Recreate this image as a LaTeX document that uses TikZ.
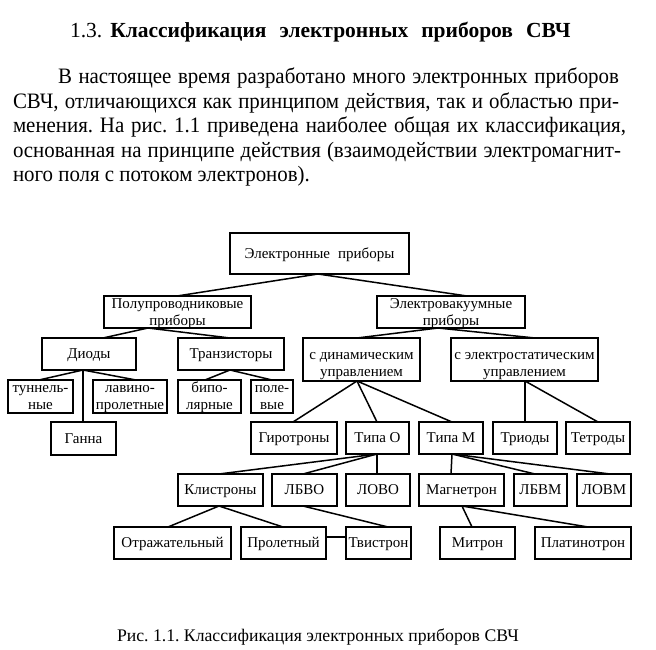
\documentclass[tikz,border=0pt]{standalone}
\usepackage{fontspec}
\setmainfont{Liberation Serif}
\newfontfamily\parafont[FakeStretch=0.95]{Liberation Serif}
\frenchspacing
\tikzset{
  box/.style={draw, line width=1.1pt, inner sep=0pt, outer sep=0pt, align=center,
              font=\fontsize{15}{17}\selectfont, text height=10pt, text depth=1pt},
  two/.style={box, text height=29pt, text depth=3pt},
  twoc/.style={box, text height=37pt, text depth=4pt},
  topbox/.style={box, line width=1.8pt},
  conn/.style={line width=1.5pt},
  txt/.style={anchor=base west, inner sep=0pt, outer sep=0pt}
}
\newcommand\bx[7][box]{\node[#1, minimum width={(#5-#3)*1pt}, minimum height={(#6-#4)*1pt}] (#2) at ({(#3+#5)/2},{(#4+#6)/2}) {#7};}
\newcommand\cn[4]{\draw[conn] (#1.south -| #2,0) -- (#3.north -| #4,0);}
\begin{document}
\begin{tikzpicture}[x=1pt,y=-1pt]
\useasboundingbox (0,0) rectangle (656,650);
% title
\node[txt, font=\fontsize{21.5}{24}\selectfont] (title) at (70,38)
  {1.3.\hspace{8pt}\textbf{Классификация\hspace{13pt}электронных\hspace{13pt}приборов\hspace{13pt}СВЧ}};
% paragraph
\begin{scope}[every node/.append style={txt, font=\parafont\fontsize{22}{25}\selectfont}]
\node (p1) at (58,84) {\makebox[561pt][s]{В настоящее время разработано много электронных приборов}};
\node (p2) at (13,108.5) {\makebox[606pt][s]{СВЧ, отличающихся как принципом действия, так и областью при-}};
\node (p3) at (13,133) {\makebox[613pt][s]{менения. На рис. 1.1 приведена наиболее общая их классификация,}};
\node (p4) at (13,157.5) {\makebox[608pt][s]{основанная на принципе действия (взаимодействии электромагнит-}};
\node (p5) at (13,182) {ного поля с потоком электронов).};
\end{scope}
% boxes
\bx[topbox]{top}{230}{233}{409}{274}{Электронные\hspace{8pt}приборы}
\bx[two]{pp}{104}{296}{251}{328}{Полупроводниковые\\приборы}
\bx[two]{ev}{377}{296}{525}{328}{Электровакуумные\\приборы}
\bx{diod}{42}{338}{136}{370}{Диоды}
\bx{tr}{178}{338}{284}{370}{Транзисторы}
\bx[twoc]{dyn}{303}{338}{420}{381}{с динамическим\\управлением}
\bx[twoc]{est}{451}{338}{598}{381}{с электростатическим\\управлением}
\bx[two]{tun}{8}{380}{73}{413}{туннель-\\ные}
\bx[two]{lav}{93}{380}{167}{413}{лавино-\\пролетные}
\bx{gan}{51}{422}{116}{455}{Ганна}
\bx[two]{bip}{178}{380}{241}{413}{бипо-\\лярные}
\bx[two]{pol}{251}{380}{293}{413}{поле-\\вые}
\bx{gir}{251}{422}{337}{454}{Гиротроны}
\bx{tO}{346}{422}{409}{454}{Типа О}
\bx{tM}{419}{422}{483}{454}{Типа М}
\bx{tri}{493}{422}{557}{454}{Триоды}
\bx{tet}{566}{422}{630}{454}{Тетроды}
\bx{kl}{178}{474}{263}{506}{Клистроны}
\bx{lbvo}{272}{474}{337}{506}{ЛБВО}
\bx{lovo}{346}{474}{410}{506}{ЛОВО}
\bx{mag}{419}{474}{504}{506}{Магнетрон}
\bx{lbvm}{514}{474}{567}{506}{ЛБВМ}
\bx{lovm}{577}{474}{631}{506}{ЛОВМ}
\bx{otr}{114}{527}{231}{559}{Отражательный}
\bx{prol}{241}{527}{326}{559}{Пролетный}
\bx{tvis}{346}{527}{411}{559}{Твистрон}
\bx{mit}{440}{527}{515}{559}{Митрон}
\bx{plat}{535}{527}{631}{559}{Платинотрон}
% connectors
\cn{top}{318}{pp}{177}
\cn{top}{318}{ev}{467}
\cn{pp}{148}{diod}{103}
\cn{pp}{148}{tr}{230}
\cn{ev}{438}{dyn}{357}
\cn{ev}{438}{est}{535}
\cn{diod}{83}{tun}{39}
\cn{diod}{83}{lav}{136}
\cn{diod}{83}{gan}{83}
\cn{tr}{230}{bip}{205}
\cn{tr}{230}{pol}{272}
\cn{dyn}{357}{gir}{293}
\cn{dyn}{357}{tO}{377}
\cn{dyn}{357}{tM}{452}
\cn{est}{525}{tri}{525}
\cn{est}{525}{tet}{598}
\cn{tO}{377}{kl}{219}
\cn{tO}{377}{lbvo}{303}
\cn{tO}{377}{lovo}{377}
\cn{tM}{452}{mag}{451}
\cn{tM}{452}{lbvm}{535}
\cn{tM}{452}{lovm}{610}
\cn{kl}{219}{otr}{168}
\cn{kl}{219}{prol}{283}
\cn{lbvo}{303}{tvis}{388}
\cn{mag}{462}{mit}{472}
\cn{mag}{462}{plat}{588}
\draw[conn] (prol.east |- 0,537) -- (tvis.west |- 0,537);
% caption
\node[txt, font=\fontsize{17.7}{20}\selectfont] (cap) at (117,641)
  {Рис. 1.1. Классификация электронных приборов СВЧ};
\end{tikzpicture}
\end{document}
